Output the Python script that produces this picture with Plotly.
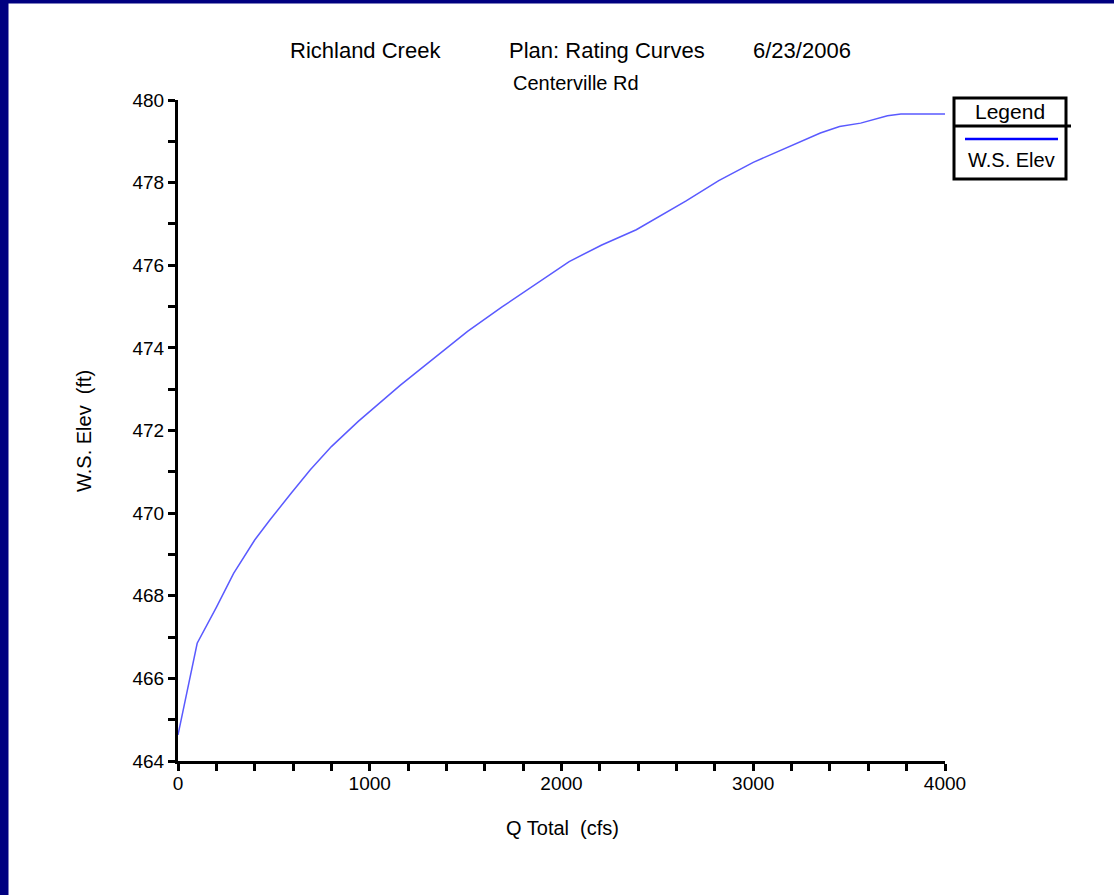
import plotly.graph_objects as go

# ---- data ----
q_total_cfs = [0, 100, 200, 290, 400, 480, 590, 690, 800, 940, 1160, 1510, 1690,
               1860, 2040, 2210, 2390, 2650, 2820, 3000, 3170, 3350, 3450, 3560,
               3700, 3770, 4000]
ws_elev_ft = [464.63, 466.85, 467.72, 468.54, 469.35, 469.84, 470.48, 471.05,
              471.61, 472.22, 473.10, 474.40, 474.99, 475.53, 476.09, 476.49,
              476.86, 477.56, 478.05, 478.49, 478.83, 479.20, 479.36, 479.44,
              479.62, 479.66, 479.66]

x_tickvals = list(range(0, 4001, 200))
x_ticktext = [str(v) if v % 1000 == 0 else "" for v in x_tickvals]
y_tickvals = list(range(464, 481, 1))
y_ticktext = [str(v) if v % 2 == 0 else "" for v in y_tickvals]

title_parts = ["Richland Creek", "Plan: Rating Curves", "6/23/2006"]
subtitle = "Centerville Rd"
x_title = "Q Total\u00a0\u00a0(cfs)"
y_title = "W.S. Elev\u00a0\u00a0(ft)"
legend_header = "Legend"
series_name = "W.S. Elev"

# ---- layout geometry (pixels) ----
FW, FH = 1114, 895
L, R, T, B = 178, 945, 100, 761
PW, PH = R - L, B - T


def px(x):
    return (x - L) / PW


def py(y):
    return (B - y) / PH


FONT = "Liberation Sans, Arial, sans-serif"

fig = go.Figure()
fig.add_trace(go.Scatter(
    x=q_total_cfs, y=ws_elev_ft, mode="lines", name=series_name,
    line=dict(color="rgb(90,90,255)", width=1.5),
    showlegend=False,
))

shapes = []
NAVY = "#000080"
# navy frame pieces (left and top)
shapes.append(dict(type="rect", xref="paper", yref="paper",
                   x0=px(0), x1=px(8.5), y0=py(FH), y1=py(0),
                   fillcolor=NAVY, line=dict(width=0), layer="above"))
shapes.append(dict(type="rect", xref="paper", yref="paper",
                   x0=px(0), x1=px(FW), y0=py(3.5), y1=py(0),
                   fillcolor=NAVY, line=dict(width=0), layer="above"))
# legend box
shapes.append(dict(type="rect", xref="paper", yref="paper",
                   x0=px(954), x1=px(1066), y0=py(179), y1=py(98),
                   line=dict(color="black", width=3), fillcolor="white",
                   layer="above"))
shapes.append(dict(type="line", xref="paper", yref="paper",
                   x0=px(954), x1=px(1071), y0=py(126), y1=py(126),
                   line=dict(color="black", width=3), layer="above"))
shapes.append(dict(type="line", xref="paper", yref="paper",
                   x0=px(965), x1=px(1058), y0=py(139), y1=py(139),
                   line=dict(color="#0000ff", width=2.5), layer="above"))

annotations = []
title_centers = [365, 607, 802]
for txt, cx in zip(title_parts, title_centers):
    annotations.append(dict(text=txt, x=px(cx), y=py(51), xref="paper",
                            yref="paper", xanchor="center", yanchor="middle",
                            showarrow=False,
                            font=dict(family=FONT, size=22, color="black")))
annotations.append(dict(text=subtitle, x=px(576), y=py(83), xref="paper",
                        yref="paper", xanchor="center", yanchor="middle",
                        showarrow=False,
                        font=dict(family=FONT, size=20, color="black")))
annotations.append(dict(text=x_title, x=px(562), y=py(828), xref="paper",
                        yref="paper", xanchor="center", yanchor="middle",
                        showarrow=False,
                        font=dict(family=FONT, size=20, color="black")))
annotations.append(dict(text=y_title, x=px(84), y=py(431), xref="paper",
                        yref="paper", xanchor="center", yanchor="middle",
                        showarrow=False, textangle=-90,
                        font=dict(family=FONT, size=20, color="black")))
annotations.append(dict(text=legend_header, x=px(1010), y=py(111), xref="paper",
                        yref="paper", xanchor="center", yanchor="middle",
                        showarrow=False,
                        font=dict(family=FONT, size=21, color="black")))
annotations.append(dict(text=series_name, x=px(1011), y=py(160), xref="paper",
                        yref="paper", xanchor="center", yanchor="middle",
                        showarrow=False,
                        font=dict(family=FONT, size=20, color="black")))

fig.update_layout(
    width=FW, height=FH, autosize=False,
    margin=dict(l=L, r=FW - R, t=T, b=FH - B, pad=0),
    paper_bgcolor="white", plot_bgcolor="white",
    font=dict(family=FONT, size=20, color="black"),
    shapes=shapes, annotations=annotations,
    showlegend=False,
)
fig.update_xaxes(
    range=[0, 4000], tickmode="array", tickvals=x_tickvals, ticktext=x_ticktext,
    showgrid=False, zeroline=False, showline=True, linecolor="black",
    linewidth=3, ticks="outside", ticklen=7, tickwidth=3, tickcolor="black",
    ticklabelstandoff=-4,
    tickfont=dict(family=FONT, size=19, color="black"),
)
fig.update_yaxes(
    range=[464, 480], tickmode="array", tickvals=y_tickvals, ticktext=y_ticktext,
    showgrid=False, zeroline=False, showline=True, linecolor="black",
    linewidth=3, ticks="outside", ticklen=7, tickwidth=3, tickcolor="black",
    tickfont=dict(family=FONT, size=19, color="black"),
)

fig.write_html("out.html", config={"displayModeBar": False},
               post_script="document.body.style.margin='0';document.body.style.overflow='hidden';")
